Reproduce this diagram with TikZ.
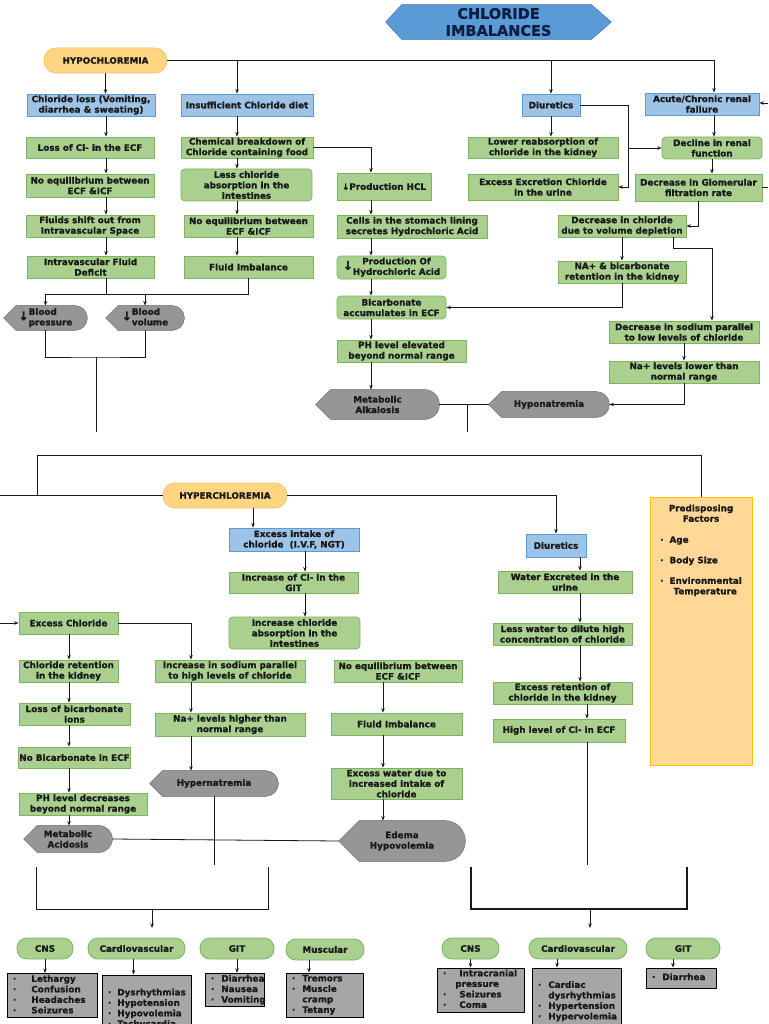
\documentclass[tikz,border=0pt]{standalone}
\usepackage{fontspec}
\setmainfont{DejaVu Sans}[BoldFeatures={FakeBold=1}]
\usetikzlibrary{arrows.meta,positioning,backgrounds,calc}

\definecolor{grnfill}{RGB}{169,208,142}
\definecolor{grnline}{RGB}{125,178,95}
\definecolor{blufill}{RGB}{157,195,230}
\definecolor{bluline}{RGB}{91,155,213}
\definecolor{orgfill}{RGB}{255,213,130}
\definecolor{orgline}{RGB}{248,196,105}
\definecolor{predfill}{RGB}{255,215,150}
\definecolor{predline}{RGB}{255,192,0}
\definecolor{hexfill}{RGB}{91,155,213}
\definecolor{hexline}{RGB}{65,113,156}
\definecolor{dispgray}{RGB}{150,150,150}
\definecolor{displine}{RGB}{100,100,100}
\definecolor{lstgray}{RGB}{166,166,166}
\definecolor{navy}{RGB}{15,30,70}
\definecolor{lin}{RGB}{25,25,25}

\tikzset{
    sz/.style 2 args={minimum width=#1pt, minimum height=#2pt},
    box/.style={rectangle, align=center, inner sep=1pt},
    gbox/.style={box, draw=grnline, fill=grnfill},
    rbox/.style={gbox, rounded corners=4pt},
    bbox/.style={box, draw=bluline, fill=blufill},
    oval/.style={box, draw=orgline, fill=orgfill, rounded corners=12pt},
    soval/.style={box, draw=grnline, fill=grnfill, rounded corners=10pt},
    disp/.style={box},
    dispfill/.style={draw=displine, fill=dispgray},
    lst/.style={rectangle, draw=black, fill=lstgray, line width=1pt, align=left, inner xsep=6pt, inner ysep=1pt},
    arr/.style={-{Stealth[length=4.5pt,width=3.5pt]}}
}

% grey "display" outline drawn behind a node
\newcommand\dispbg[1]{%
  \path[dispfill] let \p1=(#1.north west), \p2=(#1.south east), \n1={(\y1-\y2)/2} in
    (#1.west) -- (\x1+\n1,\y1) -- (\x2-\n1,\y1)
    arc[start angle=90, end angle=-90, radius=\n1] -- (\x1+\n1,\y2) -- cycle;}

\begin{document}
\begin{tikzpicture}[x=1pt, y=1pt, color=lin, line width=0.8pt,
    font=\fontsize{8.8}{10.5}\selectfont\bfseries]
    \useasboundingbox (0,0) rectangle (768,-1024);

    % Title
    \node[box, font=\fontsize{14.5}{17}\selectfont\bfseries, text=navy, sz={225}{34}] (title) at (498.5,-22) {CHLORIDE\\IMBALANCES};

    % Hypochloremia
    \node[oval, sz={123}{25}] (hypo) at (105.5,-60.5) {HYPOCHLOREMIA};
    \node[bbox, sz={128}{22}] (closs) at (91,-105) {Chloride loss (Vomiting,\\diarrhea \& sweating)};
    \node[bbox, sz={132}{22}] (insuf) at (247,-105) {Insufficient Chloride diet};
    \node[bbox, sz={58}{22}] (diu) at (551,-105) {Diuretics};
    \node[bbox, sz={114}{22}] (renal) at (702,-104) {Acute/Chronic renal\\failure};

    \node[gbox, sz={128}{21}] (lossecf) at (90,-147.5) {Loss of Cl- in the ECF};
    \node[gbox, sz={132}{21}] (chem) at (247,-147.5) {Chemical breakdown of\\Chloride containing food};
    \node[gbox, sz={150}{21}] (lowreab) at (543,-147.5) {Lower reabsorption of\\chloride in the kidney};
    \node[rbox, sz={100}{22}] (decline) at (712,-148) {Decline in renal\\function};

    \node[gbox, sz={128}{23}] (noeqa) at (90,-185.5) {No equilibrium between\\ECF \&ICF};
    \node[rbox, sz={131}{32}] (lessabs) at (246.5,-185) {Less chloride\\absorption in the\\intestines};
    \node[gbox, sz={94}{27}] (prodhcl) at (384,-186.5) {↓Production HCL};
    \node[gbox, sz={150}{26}] (excexc) at (543,-187) {Excess Excretion Chloride\\in the urine};
    \node[gbox, sz={127}{27}] (gfr) at (698.5,-187.5) {Decrease in Glomerular\\filtration rate};

    \node[gbox, sz={128}{22}] (fshift) at (90,-226) {Fluids shift out from\\Intravascular Space};
    \node[gbox, sz={129}{22}] (noeqb) at (248.5,-226) {No equilibrium between\\ECF \&ICF};
    \node[gbox, sz={150}{23}] (cells) at (412,-226.5) {Cells in the stomach lining\\secretes Hydrochloric Acid};
    \node[gbox, sz={128}{22}] (decvol) at (622,-226) {Decrease in chloride\\due to volume depletion};

    \node[gbox, sz={127}{22}] (ivfd) at (90.5,-267) {Intravascular Fluid\\Deficit};
    \node[gbox, sz={129}{22}] (fimba) at (248.5,-267) {Fluid Imbalance};
    \node[rbox, sz={109}{23}] (prodhca) at (391.5,-267.5) {{\fontsize{12}{12}\selectfont ↓}\begin{tabular}{@{}c@{}}Production Of\\Hydrochloric Acid\end{tabular}};
    \node[gbox, sz={128}{22}] (naret) at (622,-272) {NA+ \& bicarbonate\\retention in the kidney};

    \node[disp, sz={83}{24}] (bpres) at (45.5,-318) {{\fontsize{12}{12}\selectfont ↓}\begin{tabular}{@{}l@{}}Blood\\pressure\end{tabular}};
    \node[disp, sz={78}{24}] (bvol) at (145,-318) {{\fontsize{12}{12}\selectfont ↓}\begin{tabular}{@{}l@{}}Blood\\volume\end{tabular}};
    \node[rbox, sz={109}{23}] (bicarb) at (391.5,-307.5) {Bicarbonate\\accumulates in ECF};
    \node[gbox, sz={150}{22}] (decna) at (684,-332) {Decrease in sodium parallel\\to low levels of chloride};

    \node[gbox, sz={129}{22}] (phel) at (401.5,-351) {PH level elevated\\beyond normal range};
    \node[gbox, sz={150}{22}] (nalow) at (684,-372) {Na+ levels lower than\\normal range};

    \node[disp, sz={123}{29}] (malk) at (377.5,-404.5) {Metabolic\\Alkalosis};
    \node[disp, sz={120}{25}] (hyponat) at (549,-404.5) {Hyponatremia};

    % Hyperchloremia
    \node[oval, sz={124}{25}] (hyper) at (225,-495.5) {HYPERCHLOREMIA};
    \node[rectangle, draw=predline, fill=predfill, line width=1pt, sz={102}{268}] (pred) at (701,-631) {};
    \node[below=7pt of pred.north, inner sep=0pt, align=left] (predtxt) {\begin{tabular}{@{}l@{\hspace{6pt}}l@{}}\multicolumn{2}{c}{Predisposing}\\\multicolumn{2}{c}{Factors}\\[10.5pt]
        · & Age\\[10pt] · & Body Size\\[10pt] · & Environmental\\ & \hspace{4pt}Temperature\end{tabular}};

    \node[bbox, sz={130}{23}] (exin) at (294,-539.5) {Excess intake of\\chloride\ \ (I.V.F, NGT)};
    \node[gbox, sz={129}{21}] (incgit) at (293.5,-582.5) {Increase of Cl- in the\\GIT};
    \node[rbox, sz={131}{32}] (incabs) at (294.5,-633) {Increase chloride\\absorption in the\\intestines};

    \node[bbox, sz={60}{23}] (diub) at (556,-545.5) {Diuretics};
    \node[gbox, sz={134}{22}] (water) at (565,-582) {Water Excreted in the\\urine};
    \node[gbox, sz={139}{22}] (lesswater) at (562.5,-634) {Less water to dilute high\\concentration of chloride};
    \node[gbox, sz={139}{22}] (excret) at (562.5,-693) {Excess retention of\\chloride in the kidney};
    \node[gbox, sz={132}{23}] (highcl) at (559,-730.5) {High level of Cl- in ECF};

    \node[gbox, sz={99}{22}] (exchl) at (68.5,-623) {Excess Chloride};
    \node[gbox, sz={99}{22}] (clret) at (68.5,-671) {Chloride retention\\in the kidney};
    \node[gbox, sz={111}{22}] (lossbic) at (74.5,-714) {Loss of bicarbonate\\ions};
    \node[gbox, sz={111}{21}] (nobic) at (74.5,-757.5) {No Bicarbonate in ECF};
    \node[gbox, sz={128}{22}] (phdec) at (83,-804) {PH level decreases\\beyond normal range};
    \node[disp, sz={88}{26}] (macid) at (68,-839) {Metabolic\\Acidosis};

    \node[gbox, sz={150}{22}] (incna) at (230,-671) {Increase in sodium parallel\\to high levels of chloride};
    \node[gbox, sz={150}{23}] (nahigh) at (230,-724.5) {Na+ levels higher than\\normal range};
    \node[disp, sz={128}{25}] (hypernat) at (214,-783.5) {Hypernatremia};

    \node[gbox, sz={128}{22}] (noeqc) at (398,-671) {No equilibrium between\\ECF \&ICF};
    \node[gbox, sz={131}{22}] (fimbb) at (396.5,-724) {Fluid Imbalance};
    \node[gbox, sz={131}{31}] (exwater) at (396.5,-783.5) {Excess water due to\\increased intake of\\chloride};
    \node[disp, sz={126}{40}] (edema) at (402,-841) {Edema\\Hypovolemia};

    % Clinical manifestations
    \node[soval, sz={56}{21}] (cnsa) at (45,-948.5) {CNS};
    \node[soval, sz={97}{21}] (cva) at (136.5,-948.5) {Cardiovascular};
    \node[soval, sz={74}{21}] (gita) at (237,-948.5) {GIT};
    \node[soval, sz={78}{21}] (musa) at (325,-949.5) {Muscular};
    \node[soval, sz={57}{21}] (cnsb) at (470.5,-948.5) {CNS};
    \node[soval, sz={98}{21}] (cvb) at (578,-948.5) {Cardiovascular};
    \node[soval, sz={74}{21}] (gitb) at (683,-948.5) {GIT};

    \node[lst, text width=78pt, minimum height=43pt] (cnsla) at (52,-995.5) {\begin{tabular}{@{}l@{\hspace{15pt}}l@{}}· & Lethargy\\· & Confusion\\· & Headaches\\· & Seizures\end{tabular}};
    \node[lst, text width=77pt, minimum height=68pt] (cvla) at (146.5,-1009) {\begin{tabular}{@{}l@{\hspace{6pt}}l@{}}· & Dysrhythmias\\· & Hypotension\\· & Hypovolemia\\· & Tachycardia\end{tabular}};
    \node[lst, text width=47pt, minimum height=32pt] (gitla) at (234.5,-990) {\begin{tabular}{@{}l@{\hspace{7pt}}l@{}}· & Diarrhea\\· & Nausea\\· & Vomiting\end{tabular}};
    \node[lst, text width=65pt, minimum height=42pt] (musla) at (324.5,-995) {\begin{tabular}{@{}l@{\hspace{7pt}}l@{}}· & Tremors\\· & Muscle\\ & cramp\\· & Tetany\end{tabular}};
    \node[lst, text width=75pt, minimum height=44pt] (cnslb) at (480.5,-990) {\begin{tabular}{@{}l@{\hspace{13pt}}l@{}}· & Intracranial\\ & \hspace{-4pt}pressure\\· & Seizures\\· & Coma\end{tabular}};
    \node[lst, text width=77pt, minimum height=67pt] (cvlb) at (576.5,-1001.5) {\begin{tabular}{@{}l@{\hspace{7pt}}l@{}}· & Cardiac\\ & dysrhythmias\\· & Hypertension\\· & Hypervolemia\end{tabular}};
    \node[lst, text width=58pt, minimum height=20pt] (gitlb) at (681,-978) {\begin{tabular}{@{}l@{\hspace{7pt}}l@{}}· & Diarrhea\end{tabular}};

    % Column and junction points
    \coordinate (ca) at (106,0);
    \coordinate (cb) at (237,0);
    \coordinate (cc) at (371,0);
    \coordinate (cd) at (628,0);
    \coordinate (ce) at (714,0);
    \coordinate (cf) at (712,0);
    \coordinate (cg) at (253,0);
    \coordinate (ch) at (305,0);
    \coordinate (ci) at (580,0);
    \coordinate (cj) at (587,0);
    \coordinate (ck) at (191,0);
    \coordinate (cl) at (69,0);
    \coordinate (cm) at (383,0);
    \coordinate (ja) at (0,-294);
    \coordinate (jb) at (96,-357);
    \coordinate (jc) at (673,-248);
    \coordinate (jd) at (467,-404.5);
    \coordinate (je) at (37,-495.5);
    \coordinate (jf) at (37,-455);
    \coordinate (enda) at (96,-432);
    \coordinate (endb) at (467,-432);
    \coordinate (endc) at (587,-865);
    \coordinate (endd) at (214,-865);
    \coordinate (rga) at (768,-187.5);
    \coordinate (rgb) at (768,-103);
    \coordinate (lea) at (0,-495.5);
    \coordinate (leb) at (0,-623);
    \coordinate (gla) at (36,-867);
    \coordinate (glb) at (268,-867);
    \coordinate (glc) at (152,-909);
    \coordinate (gld) at (152,-928);
    \coordinate (gra) at (471,-867);
    \coordinate (grb) at (687,-867);
    \coordinate (grc) at (590,-909);
    \coordinate (grd) at (590,-928);

    % Connections, hypochloremia
    \draw[arr] (hypo.south) -- (hypo.south |- closs.north);
    \draw[arr] (hypo.east) -| (ce |- renal.north);
    \draw[arr] (cb |- hypo.east) -- (cb |- insuf.north);
    \draw[arr] (diu.north |- hypo.east) -- (diu.north);
    \foreach \u/\v in {closs/lossecf, lossecf/noeqa, noeqa/fshift, fshift/ivfd}
        \draw[arr] (ca |- \u.south) -- (ca |- \v.north);
    \foreach \u/\v in {insuf/chem, chem/lessabs, lessabs/noeqb, noeqb/fimba}
        \draw[arr] (cb |- \u.south) -- (cb |- \v.north);
    \draw[arr] (chem.east) -| (cc |- prodhcl.north);
    \foreach \u/\v in {prodhcl/cells, cells/prodhca, prodhca/bicarb, bicarb/phel, phel/malk}
        \draw[arr] (cc |- \u.south) -- (cc |- \v.north);
    \draw (ca |- ivfd.south) -- (ca |- ja);
    \draw (fimba.south) -- (fimba.south |- ja) -- (bpres.north |- ja);
    \draw[arr] (bpres.north |- ja) -- (bpres.north);
    \draw[arr] (bvol.north |- ja) -- (bvol.north);
    \draw (bpres.south) |- (jb) -| (bvol.south);
    \draw (jb) -- (enda);
    \draw[arr] (diu.east) -| (cd |- excexc.east) -- (excexc.east);
    \draw[arr] (cd |- decline.west) -- (decline.west);
    \draw[arr] (diu.south) -- (diu.south |- lowreab.north);
    \draw[arr] (ce |- renal.south) -- (ce |- decline.north);
    \draw[arr] (decline.south) -- (decline.south |- gfr.north);
    \draw (gfr.east) -- (rga);
    \draw[arr] (rgb) -- (renal.east |- rgb);
    \draw[arr] (gfr.south) |- (decvol.east);
    \draw[arr] (decvol.south) -- (decvol.south |- naret.north);
    \draw[arr] (jc |- decvol.south) -- (jc) -| (cf |- decna.north);
    \draw[arr] (naret.south) |- (bicarb.east);
    \draw[arr] (decna.south) -- (decna.south |- nalow.north);
    \draw[arr] (nalow.south) |- (hyponat.east);
    \draw (malk.east) -- (hyponat.west);
    \draw (jd) -- (endb);

    % Connections, hyperchloremia
    \draw (lea) -- (hyper.west);
    \draw (je) -- (jf) -| (pred.north);
    \draw[arr] (hyper.east) -| (diub.north);
    \draw[arr] (cg |- hyper.south) -- (cg |- exin.north);
    \foreach \u/\v in {exin/incgit, incgit/incabs}
        \draw[arr] (ch |- \u.south) -- (ch |- \v.north);
    \foreach \u/\v in {diub/water, water/lesswater, lesswater/excret}
        \draw[arr] (ci |- \u.south) -- (ci |- \v.north);
    \draw[arr] (cj |- excret.south) -- (cj |- highcl.north);
    \draw (cj |- highcl.south) -- (endc);
    \draw[arr] (leb) -- (exchl.west);
    \draw[arr] (exchl.east) -| (ck |- incna.north);
    \foreach \u/\v in {exchl/clret, clret/lossbic, lossbic/nobic, nobic/phdec, phdec/macid}
        \draw[arr] (cl |- \u.south) -- (cl |- \v.north);
    \foreach \u/\v in {incna/nahigh, nahigh/hypernat}
        \draw[arr] (ck |- \u.south) -- (ck |- \v.north);
    \draw (hypernat.south) -- (endd);
    \foreach \u/\v in {noeqc/fimbb, fimbb/exwater, exwater/edema}
        \draw[arr] (cm |- \u.south) -- (cm |- \v.north);
    \draw (macid.east) -- (edema.west);

    % Connections, manifestations
    \draw (gla) |- (glc) -| (glb);
    \draw[arr] (glc) -- (gld);
    \draw[line width=1.2pt] (gra) |- (grc) -| (grb);
    \draw[arr] (grc) -- (grd);
    \draw[arr] (cnsa.south) -- (cnsa.south |- cnsla.north);
    \draw[arr] ([xshift=-3pt]cva.south) -- ([xshift=-3pt]cva.south |- cvla.north);
    \draw[arr] (gita.south) -- (gita.south |- gitla.north);
    \draw[arr] ([xshift=-16pt]musa.south) -- ([xshift=-16pt]musa.south |- musla.north);
    \draw[arr] (cnsb.south) -- (cnsb.south |- cnslb.north);
    \draw[arr] ([xshift=-21pt]cvb.south) -- ([xshift=-21pt]cvb.south |- cvlb.north);
    \draw[arr] ([xshift=-10pt]gitb.south) -- ([xshift=-10pt]gitb.south |- gitlb.north);

    % Shapes behind the text
    \begin{scope}[on background layer]
        \fill[white] (0,0) rectangle (768,-1024);
        \path[draw=hexline, fill=hexfill] let \p1=(title.north west), \p2=(title.south east) in
            (title.west) -- (\x1+16pt,\y1) -- (\x2-20pt,\y1) -- (title.east) -- (\x2-20pt,\y2) -- (\x1+16pt,\y2) -- cycle;
        \foreach \s in {bpres, bvol, malk, hyponat, macid, hypernat, edema}
            \dispbg{\s};
    \end{scope}
\end{tikzpicture}
\end{document}
